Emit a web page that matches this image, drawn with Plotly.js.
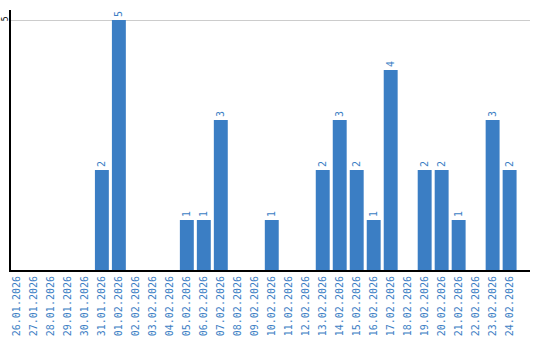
<!DOCTYPE html>
<html><head><meta charset="utf-8">
<script src="https://cdn.plot.ly/plotly-3.0.1.min.js"></script>
<style>html,body{margin:0;padding:0;background:#fff}#chart{width:540px;height:340px}</style>
</head><body><div id="chart"></div>
<script>
const dates = ["26.01.2026","27.01.2026","28.01.2026","29.01.2026","30.01.2026","31.01.2026","01.02.2026","02.02.2026","03.02.2026","04.02.2026","05.02.2026","06.02.2026","07.02.2026","08.02.2026","09.02.2026","10.02.2026","11.02.2026","12.02.2026","13.02.2026","14.02.2026","15.02.2026","16.02.2026","17.02.2026","18.02.2026","19.02.2026","20.02.2026","21.02.2026","22.02.2026","23.02.2026","24.02.2026"];
const counts = [0,0,0,0,0,2,5,0,0,0,1,1,3,0,0,1,0,0,2,3,2,1,4,0,2,2,1,0,3,2];
const yTicks = [5];

const blue = "#3b7ec4";
const labels = counts.map(v => v > 0 ? String(v) : "");

Plotly.newPlot("chart", [{
  type: "bar",
  x: dates,
  y: counts,
  text: labels,
  textposition: "outside",
  textangle: -90,
  cliponaxis: false,
  textfont: {family: "DejaVu Sans Mono", size: 10, color: blue},
  marker: {color: blue},
  hoverinfo: "none"
}], {
  width: 540, height: 340,
  margin: {l: 11, r: 10, t: 10, b: 70},
  paper_bgcolor: "#fff", plot_bgcolor: "#fff",
  bargap: 0.18,
  showlegend: false,
  xaxis: {
    type: "category",
    range: [-0.35, 30.2],
    tickangle: -90,
    tickfont: {family: "DejaVu Sans Mono", size: 10, color: blue},
    showline: true, linecolor: "#000", linewidth: 2,
    showgrid: false, ticks: "", ticklen: 0,
    fixedrange: true
  },
  yaxis: {
    range: [0, 5.2],
    tickvals: yTicks,
    ticktext: yTicks.map(String),
    tickangle: -90,
    ticklabelstandoff: -2,
    tickfont: {family: "DejaVu Sans Mono", size: 8, color: "#000"},
    showline: true, linecolor: "#000", linewidth: 2,
    showgrid: true, gridcolor: "#cccccc", gridwidth: 1,
    zeroline: false, ticks: "",
    fixedrange: true
  }
}, {displayModeBar: false, staticPlot: true});
</script>
</body></html>
